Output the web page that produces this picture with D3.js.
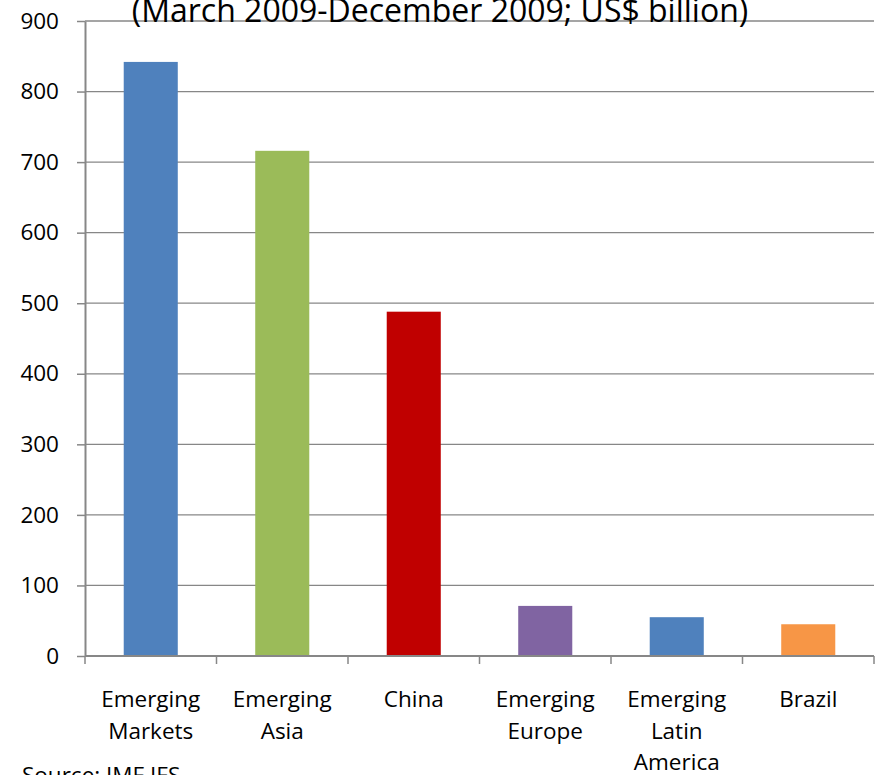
<!DOCTYPE html>
<html>
<head>
<meta charset="utf-8">
<script src="https://cdn.jsdelivr.net/npm/d3@7"></script>
<style>
  html, body { margin: 0; padding: 0; background: #fff; overflow: hidden; }
  text { font-family: "Open Sans", sans-serif; fill: #000; }
</style>
</head>
<body>
<svg id="chart"></svg>
<script>
// data
var categories = ["Emerging Markets", "Emerging Asia", "China", "Emerging Europe", "Emerging Latin America", "Brazil"];
var label_lines = [["Emerging", "Markets"], ["Emerging", "Asia"], ["China"], ["Emerging", "Europe"], ["Emerging", "Latin", "America"], ["Brazil"]];
var values = [842, 716, 488, 71, 55, 45];
var bar_colors = ["#4F81BD", "#9BBB59", "#C00000", "#8064A2", "#4F81BD", "#F79646"];
var y_ticks = [0, 100, 200, 300, 400, 500, 600, 700, 800, 900];
var title = "(March 2009-December 2009; US$ billion)";
var source = "Source: IMF IFS";

const width = 879;
const height = 775;
const plot_left = 85, plot_right = 874, plot_top = 21, plot_bottom = 656;
const grid_color = "#878787";

var svg = d3.select("#chart")
  .attr("width", width)
  .attr("height", height);

var x = d3.scaleBand()
  .domain(categories)
  .range([plot_left, plot_right])
  .paddingInner(0.589)
  .paddingOuter(0.589 / 2);

var y = d3.scaleLinear()
  .domain([0, 900])
  .range([plot_bottom, plot_top]);

// gridlines
svg.append("g")
  .selectAll("line")
  .data(y_ticks.filter(d => d > 0))
  .enter()
  .append("line")
  .attr("x1", plot_left)
  .attr("x2", plot_right)
  .attr("y1", d => y(d))
  .attr("y2", d => y(d))
  .attr("stroke", grid_color)
  .attr("stroke-width", 1.3);

// bars
svg.append("g")
  .selectAll("rect")
  .data(values)
  .enter()
  .append("rect")
  .attr("x", (d, i) => x(categories[i]))
  .attr("width", x.bandwidth())
  .attr("y", d => y(d))
  .attr("height", d => y(0) - y(d))
  .attr("fill", (d, i) => bar_colors[i]);

// y axis
var yAxis = svg.append("g")
  .attr("transform", `translate(${plot_left},0)`)
  .call(d3.axisLeft(y).tickValues(y_ticks).tickSize(8).tickPadding(18).tickSizeOuter(0));
yAxis.select(".domain").attr("stroke", grid_color).attr("stroke-width", 2);
yAxis.selectAll(".tick line").attr("stroke", grid_color).attr("stroke-width", 1.5);
yAxis.selectAll(".tick text")
  .attr("font-family", "Open Sans")
  .attr("font-size", 22.5)
  .attr("fill", "#000");

// x axis: ticks on category boundaries
var step = x.step();
var bounds = d3.range(categories.length + 1).map(i => plot_left + i * step);
svg.append("line")
  .attr("x1", plot_left).attr("x2", plot_right)
  .attr("y1", plot_bottom).attr("y2", plot_bottom)
  .attr("stroke", grid_color)
  .attr("stroke-width", 2);
svg.append("g")
  .selectAll("line")
  .data(bounds)
  .enter()
  .append("line")
  .attr("x1", d => d).attr("x2", d => d)
  .attr("y1", plot_bottom).attr("y2", plot_bottom + 8)
  .attr("stroke", grid_color)
  .attr("stroke-width", 1.5);

// category labels
var labels = svg.append("g")
  .selectAll("text")
  .data(label_lines)
  .enter()
  .append("text")
  .attr("text-anchor", "middle")
  .attr("font-size", 22.5);
labels.each(function(lines, i) {
  var cx = x(categories[i]) + x.bandwidth() / 2;
  d3.select(this).selectAll("tspan")
    .data(lines)
    .enter()
    .append("tspan")
    .attr("x", cx)
    .attr("y", (d, j) => 707 + j * 31.5)
    .text(d => d);
});

// title (top cut off like the original)
svg.append("text")
  .attr("x", 440)
  .attr("y", 22)
  .attr("text-anchor", "middle")
  .attr("font-size", 32)
  .text(title);

svg.append("text")
  .attr("x", 22)
  .attr("y", 783)
  .attr("font-size", 22.5)
  .text(source);
</script>
</body>
</html>
